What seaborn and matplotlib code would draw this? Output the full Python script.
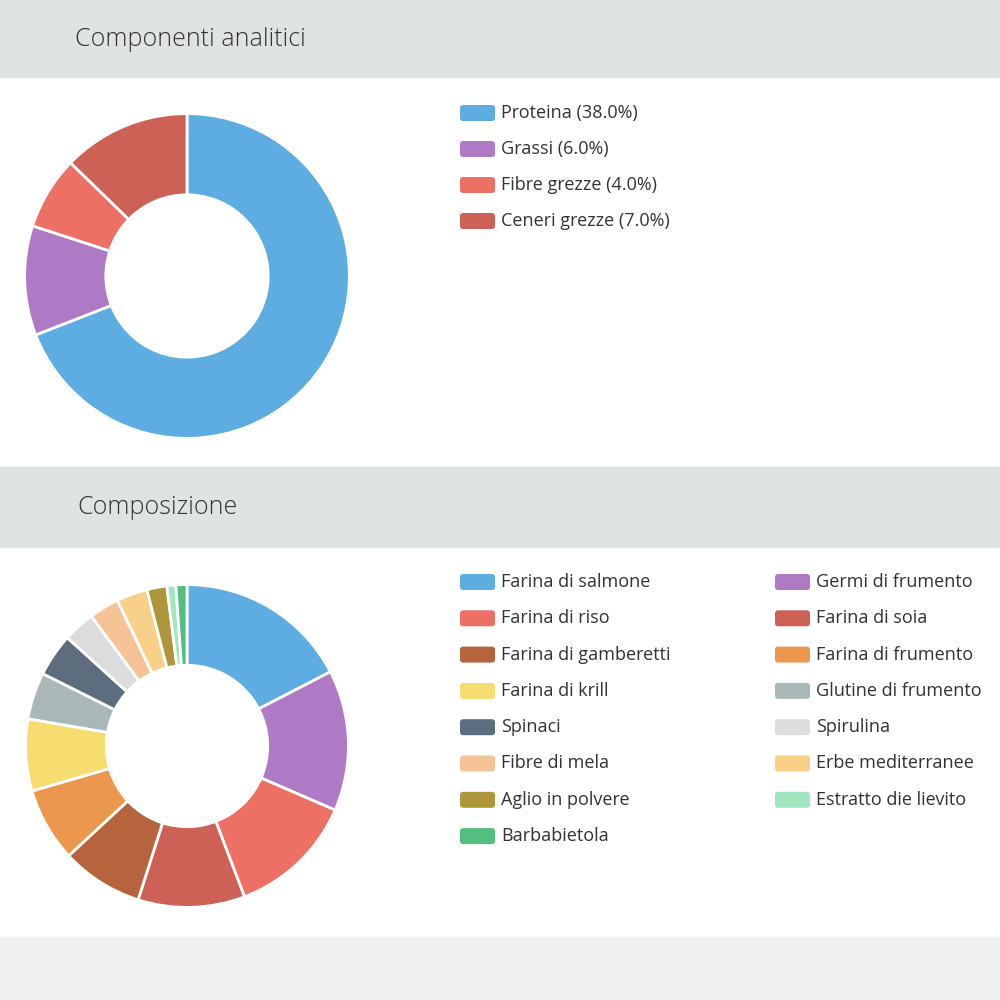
import matplotlib
matplotlib.use("Agg")
import matplotlib.pyplot as plt
from matplotlib.patches import FancyBboxPatch, Rectangle
import seaborn as sns

sns.set_theme(style="white", font="Open Sans")

# Componenti analitici
comp_labels = ["Proteina (38.0%)", "Grassi (6.0%)", "Fibre grezze (4.0%)", "Ceneri grezze (7.0%)"]
comp_values = [38.0, 6.0, 4.0, 7.0]
comp_colors = ["#5dade2", "#af7ac5", "#ec7063", "#cd6155"]

# Composizione (quote stimate dal grafico)
ingr_labels = ["Farina di salmone", "Germi di frumento", "Farina di riso", "Farina di soia",
               "Farina di gamberetti", "Farina di frumento", "Farina di krill", "Glutine di frumento",
               "Spinaci", "Spirulina", "Fibre di mela", "Erbe mediterranee",
               "Aglio in polvere", "Estratto die lievito", "Barbabietola"]
ingr_values = [17.4, 14.1, 12.7, 10.7, 8.2, 7.4, 7.2, 4.7, 4.3, 3.2, 3.0, 3.1, 2.0, 0.9, 1.1]
ingr_colors = ["#5dade2", "#af7ac5", "#ec7063", "#cd6155", "#b5643e", "#eb984e", "#f7dc6f",
               "#aab7b8", "#5d6d7e", "#dcdcdc", "#f5c396", "#f8d08a", "#b0963a", "#a3e4c1", "#52be80"]

fig = plt.figure(figsize=(10, 10), dpi=100)
fig.patch.set_facecolor("white")

def px(x, y):
    return x / 1000, 1 - y / 1000

# bands
for y0, y1, c in [(0, 77, "#dfe3e1"), (467, 547, "#dfe3e1"), (937, 1000, "#eef1f0")]:
    fig.add_artist(Rectangle((0, 1 - y1 / 1000), 1, (y1 - y0) / 1000,
                             transform=fig.transFigure, color=c, zorder=0))
fig.text(*px(75, 39), "Componenti analitici", fontsize=18, color="#333333", va="center", weight="light")
fig.text(*px(77, 508), "Composizione", fontsize=18, color="#333333", va="center", weight="light")

def donut(cx, cy, r, values, colors):
    ax = fig.add_axes([(cx - r) / 1000, 1 - (cy + r) / 1000, 2 * r / 1000, 2 * r / 1000])
    ax.pie(values, colors=colors, startangle=90, counterclock=False, radius=1,
           wedgeprops=dict(width=0.5, edgecolor="white", linewidth=2))
    ax.set_xlim(-1.01, 1.01)
    ax.set_ylim(-1.01, 1.01)
    ax.set_aspect("equal")
    ax.axis("off")

def legend_item(x, y, label, color):
    fig.add_artist(FancyBboxPatch(((x) / 1000, 1 - (y + 8) / 1000), 35 / 1000, 16 / 1000,
                                  boxstyle="round,pad=0,rounding_size=0.003",
                                  transform=fig.transFigure, color=color, linewidth=0))
    fig.text((x + 41) / 1000, 1 - y / 1000, label, fontsize=13, color="#333333", va="center")

donut(187, 276, 164, comp_values, comp_colors)
for i, (lab, col) in enumerate(zip(comp_labels, comp_colors)):
    legend_item(460, 113 + 36 * i, lab, col)

donut(187, 746, 163, ingr_values, ingr_colors)
for i, (lab, col) in enumerate(zip(ingr_labels, ingr_colors)):
    legend_item(460 + 315 * (i % 2), 582 + 36.3 * (i // 2), lab, col)

fig.savefig("out.png", dpi=100)
